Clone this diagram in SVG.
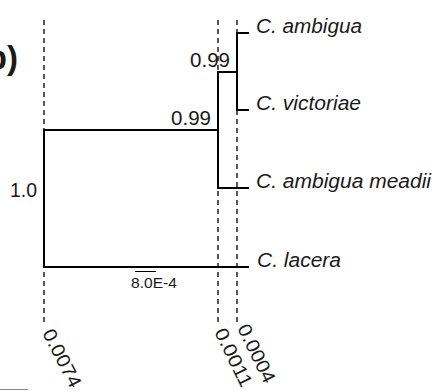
<svg xmlns="http://www.w3.org/2000/svg" width="437" height="391" viewBox="0 0 437 391">
  <style>
    .branch { stroke: #000; stroke-width: 2; fill: none; stroke-linecap: square; }
    .guide { stroke: #222; stroke-width: 1.5; stroke-dasharray: 5 4; fill: none; }
    text { font-family: "Liberation Sans", Arial, sans-serif; fill: #1a1a1a; }
    .taxon { font-style: italic; }
  </style>

  <!-- panel letter -->
  <text x="18" y="69" font-weight="bold" font-size="33" text-anchor="end">b)</text>

  <!-- node depth guides -->
  <g id="guides">
    <line class="guide" x1="44" y1="20" x2="44" y2="323"/>
    <line class="guide" x1="218" y1="20" x2="218" y2="323"/>
    <line class="guide" x1="237" y1="20" x2="237" y2="323"/>
  </g>

  <!-- tree branches -->
  <g id="connectors">
    <path class="branch" d="M44 130 V267"/>
    <path class="branch" d="M44 130 H218"/>
    <path class="branch" d="M44 267 H248"/>
    <path class="branch" d="M218 72 V188 H248"/>
    <path class="branch" d="M218 72 H237"/>
    <path class="branch" d="M237 33 V110"/>
    <path class="branch" d="M237 33 H248"/>
    <path class="branch" d="M237 110 H248"/>
  </g>

  <g id="node-ambigua"><text class="taxon" x="256" y="33" font-size="20" textLength="106" lengthAdjust="spacingAndGlyphs">C. ambigua</text></g>
  <g id="node-victoriae"><text class="taxon" x="256" y="110" font-size="20" textLength="105" lengthAdjust="spacingAndGlyphs">C. victoriae</text></g>
  <g id="node-meadii"><text class="taxon" x="256" y="188" font-size="20" textLength="175" lengthAdjust="spacingAndGlyphs">C. ambigua meadii</text></g>
  <g id="node-lacera"><text class="taxon" x="257" y="267" font-size="20" textLength="84" lengthAdjust="spacingAndGlyphs">C. lacera</text></g>

  <!-- support values -->
  <g id="node-support">
    <text x="190" y="67" font-size="20" textLength="40" lengthAdjust="spacingAndGlyphs">0.99</text>
    <text x="171" y="125" font-size="20" textLength="40" lengthAdjust="spacingAndGlyphs">0.99</text>
    <text x="10" y="197" font-size="20" textLength="27" lengthAdjust="spacingAndGlyphs">1.0</text>
  </g>

  <!-- scale bar -->
  <g id="scale-bar">
    <line x1="135" y1="271.5" x2="156" y2="271.5" stroke="#000" stroke-width="1"/>
    <text x="131" y="288" font-size="15.5" textLength="46" lengthAdjust="spacingAndGlyphs">8.0E-4</text>
  </g>

  <!-- node depths -->
  <g id="node-depths">
    <text font-size="19" textLength="63" lengthAdjust="spacingAndGlyphs" transform="translate(42 333) rotate(63)">0.0074</text>
    <text font-size="19" textLength="63" lengthAdjust="spacingAndGlyphs" transform="translate(214 332) rotate(64)">0.0011</text>
    <text font-size="19" textLength="63" lengthAdjust="spacingAndGlyphs" transform="translate(237 328) rotate(64)">0.0004</text>
  </g>

  <line x1="0" y1="389.5" x2="28" y2="389.5" stroke="#888" stroke-width="1"/>
</svg>
